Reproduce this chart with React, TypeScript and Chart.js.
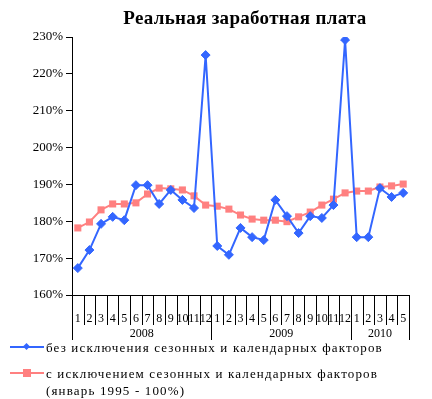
import React, { useEffect, useRef } from "react";
import { Chart, registerables } from "chart.js";

Chart.register(...registerables);

const title = "Реальная заработная плата";
const months = ["1","2","3","4","5","6","7","8","9","10","11","12","1","2","3","4","5","6","7","8","9","10","11","12","1","2","3","4","5"];
const years = ["2008", "2009", "2010"];
const yearSpans = [12, 12, 5];
const seriesNames = [
  "без исключения сезонных и календарных факторов",
  "с исключением сезонных и календарных факторов (январь 1995 - 100%)",
];
const rawValues = [167.3,172.2,179.3,181.2,180.3,189.8,189.8,184.7,188.5,185.8,183.6,225.1,
  173.3,170.9,178.2,175.7,174.9,185.8,181.4,176.8,181.4,180.9,184.4,229.2,
  175.7,175.7,189.0,186.6,187.7];
const adjValues = [178.2,179.8,183.1,184.7,184.7,185.0,187.4,189.0,188.8,188.5,186.9,184.4,
  184.1,183.3,181.7,180.6,180.3,180.3,179.9,181.2,182.5,184.4,186.0,187.7,
  188.2,188.2,189.3,189.6,190.1];
const yMin = 160;
const yMax = 230;
const yStep = 10;

const SERIF = "'Liberation Serif', 'Times New Roman', serif";
const BLUE = "#3366FF";
const PINK = "#FF8080";

const yearPlugin = {
  id: "yearRow",
  afterDraw(chart: any) {
    const ctx = chart.ctx;
    const area = chart.chartArea;
    const n = months.length;
    const w = (area.right - area.left) / n;
    const bounds: number[] = [0];
    let acc = 0;
    yearSpans.forEach((s) => { acc += s; bounds.push(acc); });
    ctx.save();
    ctx.strokeStyle = "#000";
    ctx.lineWidth = 1;
    for (let i = 0; i <= n; i++) {
      const px = Math.round(area.left + i * w) + 0.5;
      const isYear = bounds.includes(i);
      ctx.beginPath();
      ctx.moveTo(px, area.bottom);
      ctx.lineTo(px, area.bottom + (isYear ? 45 : 30));
      ctx.stroke();
    }
    ctx.fillStyle = "#000";
    ctx.font = "12px " + SERIF;
    ctx.textAlign = "center";
    ctx.textBaseline = "middle";
    years.forEach((yr, k) => {
      const cx = area.left + ((bounds[k] + bounds[k + 1]) / 2) * w;
      ctx.fillText(yr, cx, area.bottom + 39);
    });
    ctx.restore();
  },
};

export default function App() {
  const ref = useRef<HTMLCanvasElement | null>(null);
  useEffect(() => {
    document.body.style.margin = "0";
    const chart = new Chart(ref.current!, {
      type: "line",
      data: {
        labels: months,
        datasets: [
          {
            label: seriesNames[0],
            data: rawValues,
            borderColor: BLUE,
            backgroundColor: BLUE,
            borderWidth: 2,
            pointStyle: "rectRot",
            pointRadius: 4.5,
            pointBorderWidth: 1,
            tension: 0,
          },
          {
            label: seriesNames[1],
            data: adjValues,
            borderColor: PINK,
            backgroundColor: PINK,
            borderWidth: 2,
            pointStyle: "rect",
            pointRadius: 5,
            pointBorderWidth: 0,
            tension: 0,
          },
        ],
      },
      options: {
        animation: false,
        responsive: false,
        layout: { padding: { left: 0, right: 23, top: 37, bottom: 59 } },
        plugins: { legend: { display: false }, tooltip: { enabled: false }, title: { display: false } },
        scales: {
          x: {
            type: "category",
            offset: true,
            grid: { display: false },
            border: { display: true, color: "#000", width: 1 },
            ticks: { color: "#000", font: { family: SERIF, size: 12 }, padding: 9, maxRotation: 0, autoSkip: false },
            afterFit: (s: any) => { s.height = 45; },
          },
          y: {
            min: yMin,
            max: yMax,
            grid: { drawOnChartArea: false, color: "#000", tickLength: 6 },
            border: { display: true, color: "#000", width: 1 },
            ticks: { stepSize: yStep, color: "#000", font: { family: SERIF, size: 13 }, padding: 3, callback: (v: any) => v + "%" },
            afterFit: (s: any) => { s.width = 72; },
          },
        },
      },
      plugins: [yearPlugin],
    });
    return () => chart.destroy();
  }, []);

  const legendText: React.CSSProperties = {
    fontFamily: SERIF,
    fontSize: 13,
    letterSpacing: "1.15px",
    color: "#000",
    lineHeight: "17px",
  };

  return (
    <div style={{ position: "relative", width: 432, height: 399, background: "#fff" }}>
      <canvas ref={ref} width={432} height={399} style={{ position: "absolute", left: 0, top: 0 }} />
      <div style={{ position: "absolute", left: 0, width: 490, top: 7, textAlign: "center", fontFamily: SERIF, fontWeight: "bold", fontSize: 19, letterSpacing: "0.3px", color: "#000" }}>
        {title}
      </div>
      <div style={{ position: "absolute", left: 10, top: 339 }}>
        <div style={{ display: "flex", alignItems: "flex-start" }}>
          <div style={{ position: "relative", width: 36, height: 17 }}>
            <div style={{ position: "absolute", left: 0, top: 7, width: 34, height: 2, background: BLUE }} />
            <div style={{ position: "absolute", left: 14, top: 5, width: 5, height: 5, background: BLUE, transform: "rotate(45deg)" }} />
          </div>
          <div style={legendText}>{seriesNames[0]}</div>
        </div>
        <div style={{ display: "flex", alignItems: "flex-start", marginTop: 9 }}>
          <div style={{ position: "relative", width: 36, height: 17 }}>
            <div style={{ position: "absolute", left: 0, top: 7, width: 34, height: 2, background: PINK }} />
            <div style={{ position: "absolute", left: 13, top: 4, width: 8, height: 8, background: PINK }} />
          </div>
          <div style={{ ...legendText, width: 345 }}>{seriesNames[1]}</div>
        </div>
      </div>
    </div>
  );
}
